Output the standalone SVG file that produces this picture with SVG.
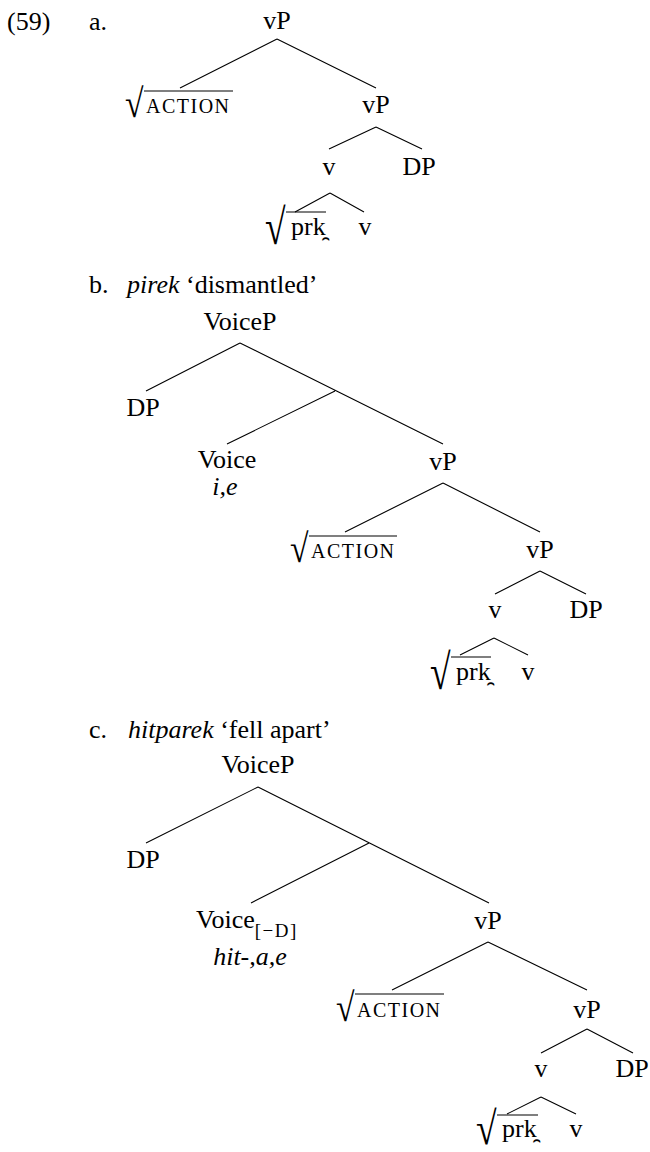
<svg xmlns="http://www.w3.org/2000/svg" width="650" height="1152" viewBox="0 0 650 1152">
<style>
text{font-family:"Liberation Serif","Times New Roman",serif;font-size:26px;fill:#000}
.m{text-anchor:middle}
.it{font-style:italic}
.sc{font-size:20px;letter-spacing:1.5px}
.sub{font-size:19px;letter-spacing:1.5px}
.rad{font-size:25px}
.edge{stroke:#000;stroke-width:1.1;fill:none}
.bar{stroke:#000;stroke-width:1.2}
</style>
<rect width="650" height="1152" fill="#fff"/>
<g id="labels">
<text x="7" y="30">(59)</text>
<text x="89" y="30">a.</text>
<text x="89" y="293">b.</text>
<text x="127" y="293"><tspan class="it">pirek</tspan> ‘dismantled’</text>
<text x="89" y="738">c.</text>
<text x="128" y="738"><tspan class="it">hitparek</tspan> ‘fell apart’</text>
</g>
<g id="connectors">
<path class="edge" d="M277,39 L180,88 M277,39 L376,88 M376,127 L329,149 M376,127 L422,149 M330,193 L295,212 M330,193 L364,212"/>
<path class="edge" d="M240,343 L146,391 M240,343 L443,444 M335,391 L227,444 M443,483 L345,532 M443,483 L540,532 M540,571 L495,594 M540,571 L586,594 M494,638 L460,655 M494,638 L528,655"/>
<path class="edge" d="M258,787 L146,843 M258,787 L489,903 M369,843 L251,903 M488,942 L392,990 M488,942 L587,990 M587,1029 L541,1053 M587,1029 L633,1053 M541,1097 L507,1114 M541,1097 L576,1114"/>
</g>
<g id="tree-a">
<g id="a-vP"><text class="m" x="277" y="29">vP</text></g>
<g id="a-action"><text class="rad" transform="translate(125,117) scale(1.35,1.6)">√</text><line class="bar" x1="144" y1="91" x2="233" y2="91"/><text class="sc" x="146" y="113">ACTION</text></g>
<g id="a-vP2"><text class="m" x="376" y="113">vP</text></g>
<g id="a-v"><text class="m" x="329" y="175">v</text></g>
<g id="a-DP"><text class="m" x="419" y="175">DP</text></g>
<g id="a-prk"><text class="rad" transform="translate(265,244) scale(1.5,2)">√</text><line class="bar" x1="286" y1="212" x2="326" y2="212"/><text x="291" y="235">prk̯</text></g>
<g id="a-v2"><text class="m" x="365" y="235">v</text></g>
</g>
<g id="tree-b">
<g id="b-VoiceP"><text class="m" x="240" y="330">VoiceP</text></g>
<g id="b-DP"><text class="m" x="143" y="416">DP</text></g>
<g id="b-Voice"><text class="m" x="227" y="468">Voice</text><text class="m it" x="225" y="495">i,e</text></g>
<g id="b-vP"><text class="m" x="443" y="470">vP</text></g>
<g id="b-action"><text class="rad" transform="translate(290,562) scale(1.35,1.6)">√</text><line class="bar" x1="309" y1="536" x2="397" y2="536"/><text class="sc" x="311" y="558">ACTION</text></g>
<g id="b-vP2"><text class="m" x="540" y="558">vP</text></g>
<g id="b-v"><text class="m" x="495" y="618">v</text></g>
<g id="b-DP2"><text class="m" x="586" y="618">DP</text></g>
<g id="b-prk"><text class="rad" transform="translate(430,689) scale(1.5,2)">√</text><line class="bar" x1="451" y1="657" x2="491" y2="657"/><text x="456" y="680">prk̯</text></g>
<g id="b-v2"><text class="m" x="528" y="680">v</text></g>
</g>
<g id="tree-c">
<g id="c-VoiceP"><text class="m" x="258" y="773">VoiceP</text></g>
<g id="c-DP"><text class="m" x="143" y="868">DP</text></g>
<g id="c-Voice"><text x="196" y="928">Voice<tspan class="sub" dy="9">[−D]</tspan></text><text class="m it" x="250" y="965">hit-,a,e</text></g>
<g id="c-vP"><text class="m" x="488" y="929">vP</text></g>
<g id="c-action"><text class="rad" transform="translate(336,1021) scale(1.35,1.6)">√</text><line class="bar" x1="355" y1="994" x2="444" y2="994"/><text class="sc" x="357" y="1017">ACTION</text></g>
<g id="c-vP2"><text class="m" x="587" y="1018">vP</text></g>
<g id="c-v"><text class="m" x="541" y="1077">v</text></g>
<g id="c-DP2"><text class="m" x="632" y="1077">DP</text></g>
<g id="c-prk"><text class="rad" transform="translate(476,1144) scale(1.5,1.85)">√</text><line class="bar" x1="497" y1="1115" x2="538" y2="1115"/><text x="502" y="1137">prk̯</text></g>
<g id="c-v2"><text class="m" x="576" y="1137">v</text></g>
</g>
</svg>
